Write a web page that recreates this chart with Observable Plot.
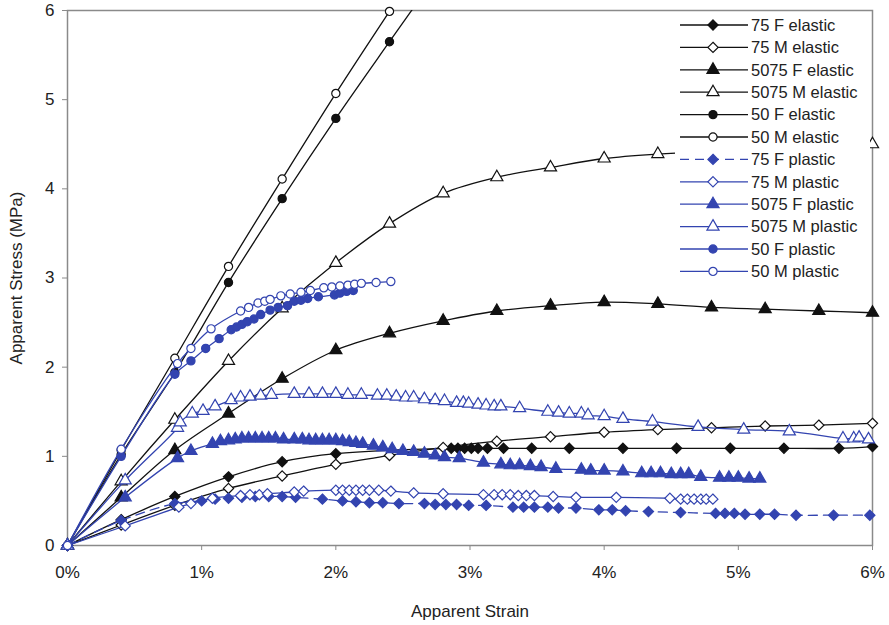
<!DOCTYPE html>
<html><head><meta charset="utf-8">
<script src="https://cdn.jsdelivr.net/npm/d3@7"></script>
<script src="https://cdn.jsdelivr.net/npm/@observablehq/plot@0.6"></script>
<style>
body{margin:0;background:#fff;font-family:"Liberation Sans",Arial,sans-serif}
#wrap{position:relative;width:889px;height:625px}
#legend{position:absolute;left:675px;top:13px;background:#fff}
</style></head><body><div id="wrap"></div>
<script>
// ---- data (strain in %, stress in MPa) ----
const xTicks = [0, 1, 2, 3, 4, 5, 6];
const yTicks = [0, 1, 2, 3, 4, 5, 6];
const seriesNames = ["75 F elastic","75 M elastic","5075 F elastic","5075 M elastic","50 F elastic","50 M elastic",
  "75 F plastic","75 M plastic","5075 F plastic","5075 M plastic","50 F plastic","50 M plastic"];

const e75F_x = [0,0.4,0.8,1.2,1.6,2.0,2.86,2.91,2.96,3.01,3.06,3.13,3.25,3.46,3.74,4.14,4.54,4.94,5.34,5.75,6.0];
const e75F_y = [0,0.29,0.55,0.77,0.94,1.03,1.09,1.09,1.09,1.09,1.09,1.09,1.09,1.09,1.09,1.09,1.09,1.09,1.09,1.09,1.11];
const e75M_x = [0,0.4,0.8,1.2,1.6,2.0,2.4,2.8,3.2,3.6,4.0,4.4,4.8,5.2,5.6,6.0];
const e75M_y = [0,0.23,0.45,0.64,0.78,0.91,1.01,1.10,1.17,1.22,1.27,1.30,1.32,1.34,1.35,1.37];
const e5075F_x = [0,0.4,0.8,1.2,1.6,2.0,2.4,2.8,3.2,3.6,4.0,4.4,4.8,5.2,5.6,6.0];
const e5075F_y = [0,0.54,1.07,1.48,1.87,2.19,2.38,2.52,2.63,2.69,2.73,2.71,2.67,2.65,2.63,2.61];
const e5075M_x = [0,0.4,0.8,1.2,1.6,2.0,2.4,2.8,3.2,3.6,4.0,4.4,6.0];
const e5075M_y = [0,0.72,1.41,2.07,2.66,3.17,3.61,3.95,4.13,4.24,4.34,4.39,4.50];
const e50F_x = [0,0.4,0.8,1.2,1.6,2.0,2.4,2.8];
const e50F_y = [0,1.02,1.94,2.95,3.89,4.79,5.65,6.50];
const e50M_x = [0,0.4,0.8,1.2,1.6,2.0,2.4];
const e50M_y = [0,1.07,2.10,3.13,4.11,5.07,5.99];

const p75F_x = [0,0.4,0.8,1.0,1.1,1.2,1.3,1.4,1.5,1.6,1.7,1.9,2.05,2.15,2.25,2.35,2.47,2.66,2.74,2.82,2.9,2.99,3.12,3.32,3.4,3.48,3.58,3.66,3.79,3.96,4.06,4.16,4.33,4.57,4.83,4.9,4.97,5.05,5.16,5.27,5.43,5.71,5.98];
const p75F_y = [0,0.28,0.47,0.50,0.52,0.53,0.54,0.55,0.55,0.55,0.54,0.52,0.50,0.49,0.48,0.48,0.47,0.47,0.46,0.46,0.46,0.45,0.45,0.43,0.43,0.43,0.43,0.42,0.42,0.40,0.40,0.39,0.38,0.37,0.36,0.36,0.36,0.35,0.35,0.35,0.34,0.34,0.34];
const p75M_x = [0,0.43,0.83,0.92,1.08,1.29,1.36,1.43,1.49,1.69,1.76,2.0,2.05,2.1,2.15,2.2,2.25,2.32,2.41,2.58,2.8,3.1,3.18,3.24,3.3,3.36,3.42,3.48,3.62,3.79,4.09,4.49,4.57,4.62,4.67,4.72,4.76,4.81];
const p75M_y = [0,0.22,0.43,0.47,0.53,0.56,0.57,0.57,0.58,0.60,0.61,0.62,0.62,0.62,0.62,0.62,0.62,0.62,0.61,0.59,0.58,0.57,0.57,0.57,0.57,0.56,0.56,0.56,0.55,0.54,0.54,0.53,0.52,0.52,0.52,0.52,0.52,0.52];
const p5075F_x = [0,0.43,0.82,0.92,1.08,1.14,1.2,1.25,1.3,1.35,1.4,1.45,1.5,1.55,1.61,1.69,1.75,1.8,1.85,1.9,1.95,2.0,2.05,2.1,2.15,2.2,2.28,2.35,2.42,2.5,2.58,2.66,2.74,2.81,2.92,3.1,3.23,3.3,3.37,3.45,3.53,3.64,3.83,3.9,4.0,4.14,4.28,4.35,4.42,4.5,4.57,4.63,4.72,4.86,4.93,5.0,5.08,5.16];
const p5075F_y = [0,0.54,0.98,1.06,1.14,1.17,1.18,1.19,1.2,1.2,1.2,1.2,1.2,1.2,1.19,1.19,1.19,1.18,1.18,1.18,1.18,1.18,1.17,1.16,1.15,1.14,1.12,1.10,1.08,1.06,1.05,1.03,1.01,0.99,0.98,0.93,0.91,0.90,0.90,0.89,0.88,0.86,0.85,0.84,0.84,0.83,0.81,0.81,0.81,0.80,0.80,0.80,0.77,0.76,0.76,0.76,0.75,0.75];
const p5075M_x = [0,0.43,0.82,0.84,0.93,1.01,1.10,1.22,1.29,1.36,1.44,1.52,1.69,1.8,1.9,2.0,2.09,2.19,2.31,2.38,2.45,2.52,2.58,2.66,2.74,2.81,2.9,2.95,2.99,3.06,3.12,3.18,3.23,3.37,3.58,3.66,3.74,3.83,3.88,4.0,4.14,4.36,4.7,5.04,5.38,5.78,5.86,5.9,5.97];
const p5075M_y = [0,0.73,1.32,1.38,1.48,1.51,1.56,1.63,1.66,1.67,1.68,1.69,1.70,1.70,1.70,1.70,1.69,1.69,1.68,1.68,1.67,1.66,1.66,1.64,1.63,1.62,1.60,1.60,1.59,1.58,1.57,1.56,1.56,1.54,1.50,1.49,1.48,1.48,1.46,1.45,1.42,1.39,1.33,1.30,1.28,1.20,1.20,1.21,1.19];
const p50F_x = [0,0.4,0.8,0.92,1.03,1.13,1.22,1.26,1.3,1.34,1.39,1.44,1.51,1.57,1.64,1.69,1.74,1.79,1.87,1.99,2.03,2.08,2.13];
const p50F_y = [0,1.0,1.92,2.07,2.21,2.32,2.42,2.45,2.48,2.51,2.54,2.59,2.64,2.67,2.69,2.74,2.75,2.77,2.79,2.81,2.83,2.85,2.86];
const p50M_x = [0,0.4,0.82,0.92,1.07,1.29,1.35,1.42,1.47,1.51,1.59,1.66,1.74,1.81,1.91,1.97,2.03,2.09,2.14,2.19,2.3,2.41];
const p50M_y = [0,1.08,2.04,2.21,2.43,2.63,2.67,2.72,2.74,2.76,2.80,2.82,2.84,2.86,2.89,2.90,2.91,2.92,2.93,2.94,2.95,2.96];

// ---- styles ----
const BLACK = "#111", BLUE = "#3344b0";
const styles = [
  {c:BLACK, s:"diamond2", hollow:false}, {c:BLACK, s:"diamond2", hollow:true},
  {c:BLACK, s:"triangle", hollow:false}, {c:BLACK, s:"triangle", hollow:true},
  {c:BLACK, s:"circle", hollow:false},   {c:BLACK, s:"circle", hollow:true},
  {c:BLUE, s:"diamond2", hollow:false, dash:"9,6"}, {c:BLUE, s:"diamond2", hollow:true},
  {c:BLUE, s:"triangle", hollow:false}, {c:BLUE, s:"triangle", hollow:true},
  {c:BLUE, s:"circle", hollow:false},   {c:BLUE, s:"circle", hollow:true}
];
const radius = {diamond2: 4.6, triangle: 4.5, circle: 4.1};
const allX = [e75F_x,e75M_x,e5075F_x,e5075M_x,e50F_x,e50M_x,p75F_x,p75M_x,p5075F_x,p5075M_x,p50F_x,p50M_x];
const allY = [e75F_y,e75M_y,e5075F_y,e5075M_y,e50F_y,e50M_y,p75F_y,p75M_y,p5075F_y,p5075M_y,p50F_y,p50M_y];

const marks = [];
seriesNames.forEach((name, i) => {
  const rows = allX[i].map((x, j) => ({x, y: allY[i][j]}));
  const st = styles[i];
  marks.push(Plot.line(rows, {x:"x", y:"y", stroke: st.c, strokeWidth: 1.3, curve:"catmull-rom", clip: true, strokeDasharray: st.dash}));
  marks.push(Plot.dot(rows.filter(d => d.y <= 6.05), {x:"x", y:"y", symbol: () => st.s, r: radius[st.s],
    fill: st.hollow ? "white" : st.c, stroke: st.c, strokeWidth: 1.2}));
});

const chart = Plot.plot({
  width: 889, height: 625,
  marginLeft: 67, marginRight: 17, marginTop: 10, marginBottom: 80,
  style: {fontFamily: '"Liberation Sans", Arial, sans-serif', fontSize: "17px", background: "white"},
  x: {domain: [0, 6]},
  y: {domain: [0, 6]},
  symbol: {type: "identity"},
  marks: [
    Plot.frame({stroke: "#8a8a8a", strokeWidth: 1.5}),
    Plot.axisX({ticks: xTicks, tickFormat: d => d + "%", tickSize: 5, tickPadding: 15, stroke: "#8a8a8a", fill: "#222",
      label: "Apparent Strain", labelAnchor: "center", labelArrow: "none", labelOffset: 71}),
    Plot.axisY({ticks: yTicks, tickFormat: d => String(d), tickSize: 5, tickPadding: 8, stroke: "#8a8a8a", fill: "#222",
      label: "Apparent Stress (MPa)", labelAnchor: "center", labelArrow: "none", labelOffset: 58}),
    ...marks
  ]
});
const wrap = document.getElementById("wrap");
wrap.appendChild(chart);

// ---- legend (overlay with white background) ----
const lg = d3.select(wrap).append("div").attr("id", "legend")
  .append("svg").attr("width", 195).attr("height", 272)
  .style("font-family", '"Liberation Sans", Arial, sans-serif').style("font-size", "16.5px");
const symMap = {diamond2: d3.symbolDiamond2, triangle: d3.symbolTriangle, circle: d3.symbolCircle};
seriesNames.forEach((name, i) => {
  const st = styles[i];
  const g = lg.append("g").attr("transform", `translate(0,${12 + i * 22.4})`);
  g.append("line").attr("x1", 5).attr("x2", 73).attr("y1", 0).attr("y2", 0)
    .attr("stroke", st.c).attr("stroke-width", 1.3).attr("stroke-dasharray", st.dash || null);
  const r = radius[st.s];
  g.append("path").attr("d", d3.symbol(symMap[st.s], Math.PI * r * r)())
    .attr("transform", "translate(38,0)")
    .attr("fill", st.hollow ? "white" : st.c).attr("stroke", st.c).attr("stroke-width", 1.2);
  g.append("text").attr("x", 76).attr("dy", "0.35em").attr("fill", "#222").text(name);
});
</script>
</body></html>
